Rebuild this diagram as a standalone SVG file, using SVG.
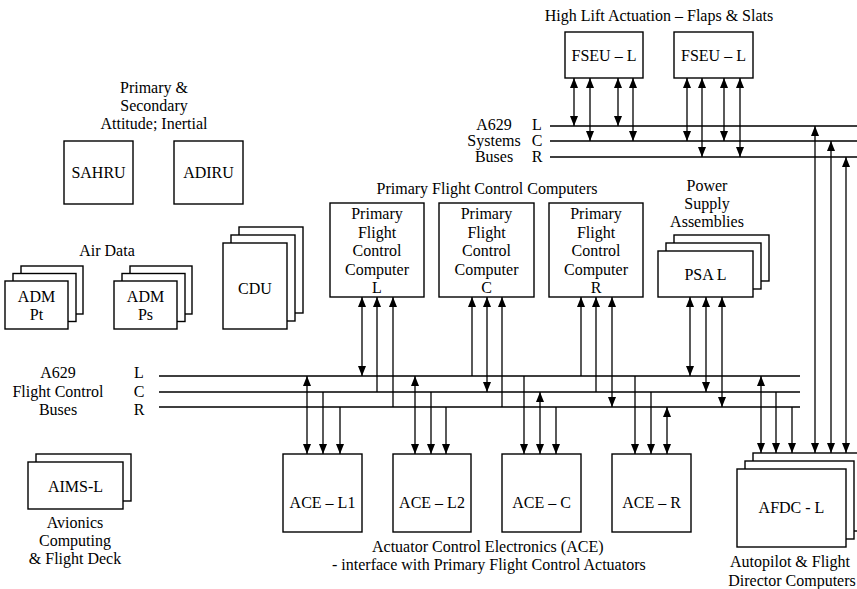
<svg xmlns="http://www.w3.org/2000/svg" width="857" height="589" viewBox="0 0 857 589">
<style>
text{font-family:"Liberation Serif","Times New Roman",serif;font-size:16px;fill:#000;text-anchor:middle}
rect{fill:#fff;stroke:#000;stroke-width:1.4}
.bus{stroke:#000;stroke-width:1.4;fill:none}
.c{stroke:#000;stroke-width:1.3;fill:none}
.b{marker-start:url(#a);marker-end:url(#a)}
.e{marker-end:url(#a)}
</style>
<defs>
<marker id="a" viewBox="0 0 10 8" refX="10" refY="4" markerWidth="10" markerHeight="8" markerUnits="userSpaceOnUse" orient="auto-start-reverse">
<path d="M0,0 L10,4 L0,8 z" fill="#000"/>
</marker>
</defs>
<rect x="0" y="0" width="857" height="589" style="fill:#fff;stroke:none"/>

<!-- labels -->
<text x="659" y="21">High Lift Actuation – Flaps &amp; Slats</text>
<text x="154" y="93">Primary &amp;</text>
<text x="154" y="111">Secondary</text>
<text x="154" y="129">Attitude; Inertial</text>
<text x="107" y="256">Air Data</text>
<text x="487" y="194">Primary Flight Control Computers</text>
<text x="707" y="191">Power</text>
<text x="707" y="209">Supply</text>
<text x="707" y="227">Assemblies</text>
<g id="sysbus-label">
<text x="494" y="130">A629</text>
<text x="494" y="146">Systems</text>
<text x="494" y="162">Buses</text>
<text x="537" y="130">L</text>
<text x="537" y="146">C</text>
<text x="537" y="162">R</text>
</g>
<g id="fcbus-label">
<text x="58" y="378">A629</text>
<text x="58" y="397">Flight Control</text>
<text x="58" y="415">Buses</text>
<text x="139" y="378">L</text>
<text x="139" y="397">C</text>
<text x="139" y="415">R</text>
</g>
<text x="372" y="552" style="text-anchor:start">Actuator Control Electronics (ACE)</text>
<text x="332" y="570" style="text-anchor:start">- interface with Primary Flight Control Actuators</text>
<text x="790" y="567">Autopilot &amp; Flight</text>
<text x="792" y="586">Director Computers</text>
<text x="75" y="528">Avionics</text>
<text x="75" y="546">Computing</text>
<text x="75" y="564">&amp; Flight Deck</text>

<!-- buses and connectors -->
<g id="connectors">
<path class="bus" d="M550,126H857M550,141H857M550,157H857"/>
<path class="bus" d="M159,376H800M159,392H800M159,407H800"/>
<path class="c b" d="M574,78V126"/>
<path class="c b" d="M590,78V141"/>
<path class="c b" d="M618,78V126"/>
<path class="c b" d="M633,78V141"/>
<path class="c b" d="M687,78V141"/>
<path class="c b" d="M702,78V157"/>
<path class="c b" d="M724,78V141"/>
<path class="c b" d="M740,78V157"/>
<path class="c b" d="M815,126V453"/>
<path class="c b" d="M831,141V453"/>
<path class="c b" d="M846,157V453"/>

<path class="c b" d="M362,297V376"/>
<path class="c e" d="M377,392V297"/>
<path class="c e" d="M393,407V297"/>
<path class="c e" d="M472,376V297"/>
<path class="c b" d="M487,297V392"/>
<path class="c e" d="M502,407V297"/>
<path class="c e" d="M581,376V297"/>
<path class="c e" d="M596,392V297"/>
<path class="c b" d="M612,297V407"/>
<path class="c b" d="M690,297V376"/>
<path class="c b" d="M706,297V392"/>
<path class="c b" d="M722,297V407"/>

<path class="c b" d="M307,376V454"/>
<path class="c e" d="M323,392V454"/>
<path class="c e" d="M340,407V454"/>
<path class="c b" d="M415,376V454"/>
<path class="c e" d="M431,392V454"/>
<path class="c e" d="M446,407V454"/>
<path class="c e" d="M524,376V454"/>
<path class="c b" d="M540,392V454"/>
<path class="c e" d="M556,407V454"/>
<path class="c e" d="M635,376V454"/>
<path class="c e" d="M651,392V454"/>
<path class="c b" d="M667,407V454"/>
<path class="c b" d="M761,376V453"/>
<path class="c e" d="M776,392V453"/>
<path class="c e" d="M792,407V453"/>
</g>

<!-- nodes -->
<g id="fseu-1"><rect x="565" y="32" width="78" height="46"/><text x="604" y="61">FSEU – L</text></g>
<g id="fseu-2"><rect x="674" y="32" width="79" height="46"/><text x="713.5" y="61">FSEU – L</text></g>
<g id="sahru"><rect x="64" y="141" width="69" height="63"/><text x="98.5" y="178">SAHRU</text></g>
<g id="adiru"><rect x="174" y="141" width="69" height="63"/><text x="208.5" y="178">ADIRU</text></g>
<g id="adm-pt">
<rect x="21" y="266" width="62" height="48"/>
<rect x="13" y="273.5" width="63" height="48"/>
<rect x="5" y="281" width="63" height="48"/>
<text x="36.5" y="302">ADM</text><text x="36.5" y="320">Pt</text>
</g>
<g id="adm-ps">
<rect x="130" y="266" width="62" height="48"/>
<rect x="122" y="273.5" width="63" height="48"/>
<rect x="114" y="281" width="63" height="48"/>
<text x="145.5" y="302">ADM</text><text x="145.5" y="320">Ps</text>
</g>
<g id="cdu">
<rect x="239" y="227" width="64" height="86"/>
<rect x="231" y="235" width="64" height="86"/>
<rect x="223" y="243" width="64" height="86"/>
<text x="255" y="294">CDU</text>
</g>
<g id="pfcc-l"><rect x="330" y="203" width="94" height="94"/>
<text x="377" y="219">Primary</text><text x="377" y="237.5">Flight</text><text x="377" y="256">Control</text><text x="377" y="274.5">Computer</text><text x="377" y="293">L</text></g>
<g id="pfcc-c"><rect x="439" y="203" width="95" height="94"/>
<text x="486.5" y="219">Primary</text><text x="486.5" y="237.5">Flight</text><text x="486.5" y="256">Control</text><text x="486.5" y="274.5">Computer</text><text x="486.5" y="293">C</text></g>
<g id="pfcc-r"><rect x="549" y="203" width="94" height="94"/>
<text x="596" y="219">Primary</text><text x="596" y="237.5">Flight</text><text x="596" y="256">Control</text><text x="596" y="274.5">Computer</text><text x="596" y="293">R</text></g>
<g id="psa">
<rect x="674" y="235" width="95" height="46"/>
<rect x="666" y="243" width="95" height="46"/>
<rect x="658" y="251" width="95" height="46"/>
<text x="705.5" y="280">PSA L</text>
</g>
<g id="ace-l1"><rect x="283" y="454" width="79" height="78"/><text x="322.5" y="508">ACE – L1</text></g>
<g id="ace-l2"><rect x="393" y="454" width="78" height="78"/><text x="432" y="508">ACE – L2</text></g>
<g id="ace-c"><rect x="502" y="454" width="79" height="78"/><text x="541.5" y="508">ACE – C</text></g>
<g id="ace-r"><rect x="612" y="454" width="79" height="78"/><text x="651.5" y="508">ACE – R</text></g>
<g id="aims">
<rect x="36" y="454" width="95" height="47"/>
<rect x="28" y="462" width="95" height="47"/>
<text x="75.5" y="492">AIMS-L</text>
</g>
<g id="afdc">
<rect x="753" y="453" width="109" height="78"/>
<rect x="745" y="461" width="109" height="78"/>
<rect x="737" y="469" width="109" height="78"/>
<text x="791.5" y="513">AFDC - L</text>
</g>
</svg>
